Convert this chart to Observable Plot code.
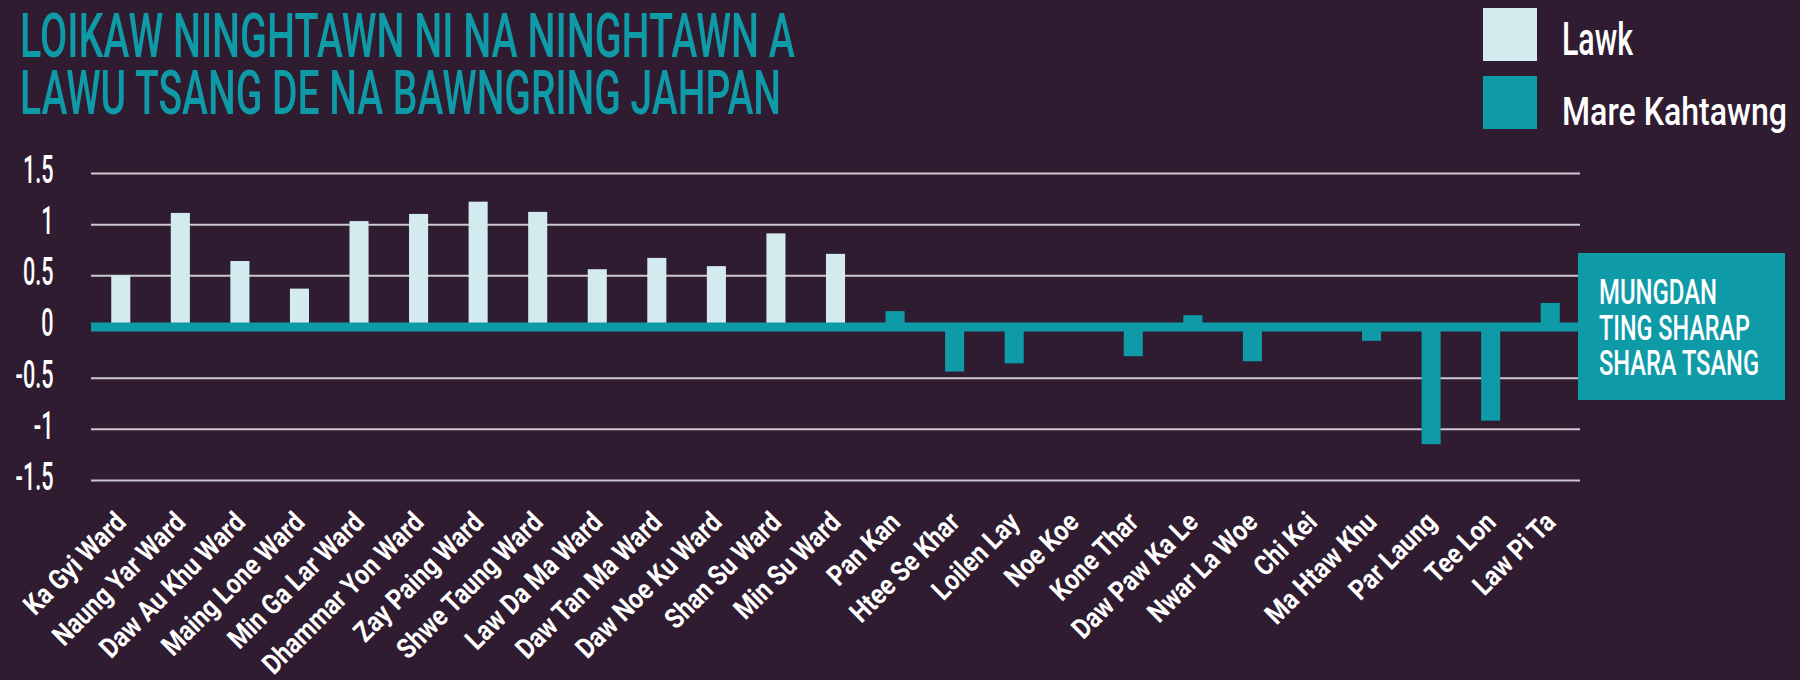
<!DOCTYPE html>
<html><head><meta charset="utf-8">
<script src="https://cdn.jsdelivr.net/npm/d3@7"></script>
<script src="https://cdn.jsdelivr.net/npm/@observablehq/plot@0.6"></script>
<style>
html,body{margin:0;padding:0;background:#2f1c31;}
body{width:1800px;height:680px;position:relative;overflow:hidden;font-family:Roboto, sans-serif;}
#chart{position:absolute;left:0;top:130px;}
.t{position:absolute;top:0;white-space:nowrap;line-height:0.8;transform-origin:0 0;}
.sw{position:absolute;}
#note{position:absolute;left:1578px;top:253px;width:207px;height:147px;background:#0f9aa8;}
</style></head><body>
<div id="chart"></div>
<div id="note"></div>
<script>
// ---- data ----
const categories = ["Ka Gyi Ward","Naung Yar Ward","Daw Au Khu Ward","Maing Lone Ward","Min Ga Lar Ward","Dhammar Yon Ward","Zay Paing Ward","Shwe Taung Ward","Law Da Ma Ward","Daw Tan Ma Ward","Daw Noe Ku Ward","Shan Su Ward","Min Su Ward","Pan Kan","Htee Se Khar","Loilen Lay","Noe Koe","Kone Thar","Daw Paw Ka Le","Nwar La Woe","Chi Kei","Ma Htaw Khu","Par Laung","Tee Lon","Law Pi Ta"];
const values = [0.50,1.11,0.64,0.37,1.03,1.10,1.22,1.12,0.56,0.67,0.59,0.91,0.71,0.15,-0.44,-0.36,0,-0.29,0.11,-0.34,0,-0.14,-1.15,-0.92,0.23];
const groups = ["Lawk","Lawk","Lawk","Lawk","Lawk","Lawk","Lawk","Lawk","Lawk","Lawk","Lawk","Lawk","Lawk","Mare Kahtawng","Mare Kahtawng","Mare Kahtawng","Mare Kahtawng","Mare Kahtawng","Mare Kahtawng","Mare Kahtawng","Mare Kahtawng","Mare Kahtawng","Mare Kahtawng","Mare Kahtawng","Mare Kahtawng"];
const seriesNames = ["Lawk","Mare Kahtawng"];
const seriesColors = ["#d3ebee","#0f9aa8"];
const yTicks = [-1.5,-1,-0.5,0,0.5,1,1.5];
const yTickLabels = ["-1.5","-1","-0.5","0","0.5","1","1.5"];
const titleLines = ["LOIKAW NINGHTAWN NI NA NINGHTAWN A","LAWU TSANG DE NA BAWNGRING JAHPAN"];
const noteLines = ["MUNGDAN","TING SHARAP","SHARA TSANG"];

const teal = "#0f9aa8";
const data = categories.map((name, i) => ({name, value: values[i], group: groups[i]}));

// ---- chart ----
const chart = Plot.plot({
  width: 1800,
  height: 550,
  marginTop: 43,
  marginBottom: 200,
  marginLeft: 91,
  marginRight: 220,
  style: {background: "transparent", color: "white", fontFamily: "Roboto, sans-serif", overflow: "visible"},
  x: {domain: categories, paddingInner: 0.68, paddingOuter: 0.34, align: 0.5, round: false, axis: null},
  y: {domain: [-1.5, 1.5], axis: null},
  color: {domain: seriesNames, range: seriesColors},
  marks: [
    Plot.ruleY(yTicks.filter(d => d !== 0), {stroke: "#cdc8cf", strokeWidth: 2}),
    Plot.barY(data, {x: "name", y: "value", fill: "group"}),
    Plot.ruleY([0], {stroke: teal, strokeWidth: 9}),
    Plot.axisY({ticks: yTicks, tickFormat: d => yTickLabels[yTicks.indexOf(d)], tickSize: 0, tickPadding: 38,
      label: null, fontSize: 39, fontWeight: 500, fill: "white", dy: -3}),
    Plot.axisX({tickSize: 0, tickRotate: -45, tickPadding: 37, textAnchor: "end", lineAnchor: "middle",
      label: null, fontSize: 28, fontWeight: 700, fill: "white"})
  ]
});
document.getElementById("chart").appendChild(chart);

// condense axis labels along their baseline (font is wider than the original's condensed face)
const yLab = [...chart.querySelectorAll('g[aria-label="y-axis tick label"] text')];
const xLab = [...chart.querySelectorAll('g[aria-label="x-axis tick label"] text')];
let ys = 0.56, xs = 0.86;
yLab.forEach(t => { if (t.textContent === "1.5") ys = 30.6 / t.getComputedTextLength(); });
xLab.forEach(t => { if (t.textContent === categories[0]) xs = 131 / t.getComputedTextLength(); });
yLab.forEach(t => t.setAttribute("transform", (t.getAttribute("transform") || "") + ` scale(${ys},1)`));
xLab.forEach(t => t.setAttribute("transform", (t.getAttribute("transform") || "") + ` scale(${xs},1)`));

// ---- html text helpers ----
function place(text, {x, baseline, size, weight, width, color}) {
  const div = document.createElement("div");
  div.className = "t";
  div.style.left = x + "px";
  div.style.font = `${weight} ${size}px Roboto, sans-serif`;
  div.style.lineHeight = "0.8";
  div.style.color = color;
  div.textContent = text;
  const m = document.createElement("span");
  m.style.cssText = "display:inline-block;width:0;height:0;vertical-align:baseline";
  div.appendChild(m);
  document.body.appendChild(div);
  const b = m.offsetTop;
  div.style.top = (baseline - b) + "px";
  const w = div.getBoundingClientRect().width;
  div.style.transform = `scaleX(${width / w})`;
}

// title
place(titleLines[0], {x: 20, baseline: 57, size: 62, weight: 500, width: 775, color: teal});
place(titleLines[1], {x: 20, baseline: 114, size: 62, weight: 500, width: 761, color: teal});

// legend
const sw = [[1483, 8], [1483, 76]];
seriesNames.forEach((n, i) => {
  const d = document.createElement("div");
  d.className = "sw";
  d.style.cssText = `left:${sw[i][0]}px;top:${sw[i][1]}px;width:54px;height:53px;background:${seriesColors[i]}`;
  document.body.appendChild(d);
});
place(seriesNames[0], {x: 1562, baseline: 55, size: 46, weight: 500, width: 71, color: "white"});
place(seriesNames[1], {x: 1562, baseline: 125, size: 39, weight: 500, width: 225, color: "white"});

// note box text
place(noteLines[0], {x: 1599, baseline: 304, size: 35, weight: 500, width: 118, color: "white"});
place(noteLines[1], {x: 1599, baseline: 340, size: 35, weight: 500, width: 151, color: "white"});
place(noteLines[2], {x: 1599, baseline: 375, size: 35, weight: 500, width: 160, color: "white"});
</script>
</body></html>
